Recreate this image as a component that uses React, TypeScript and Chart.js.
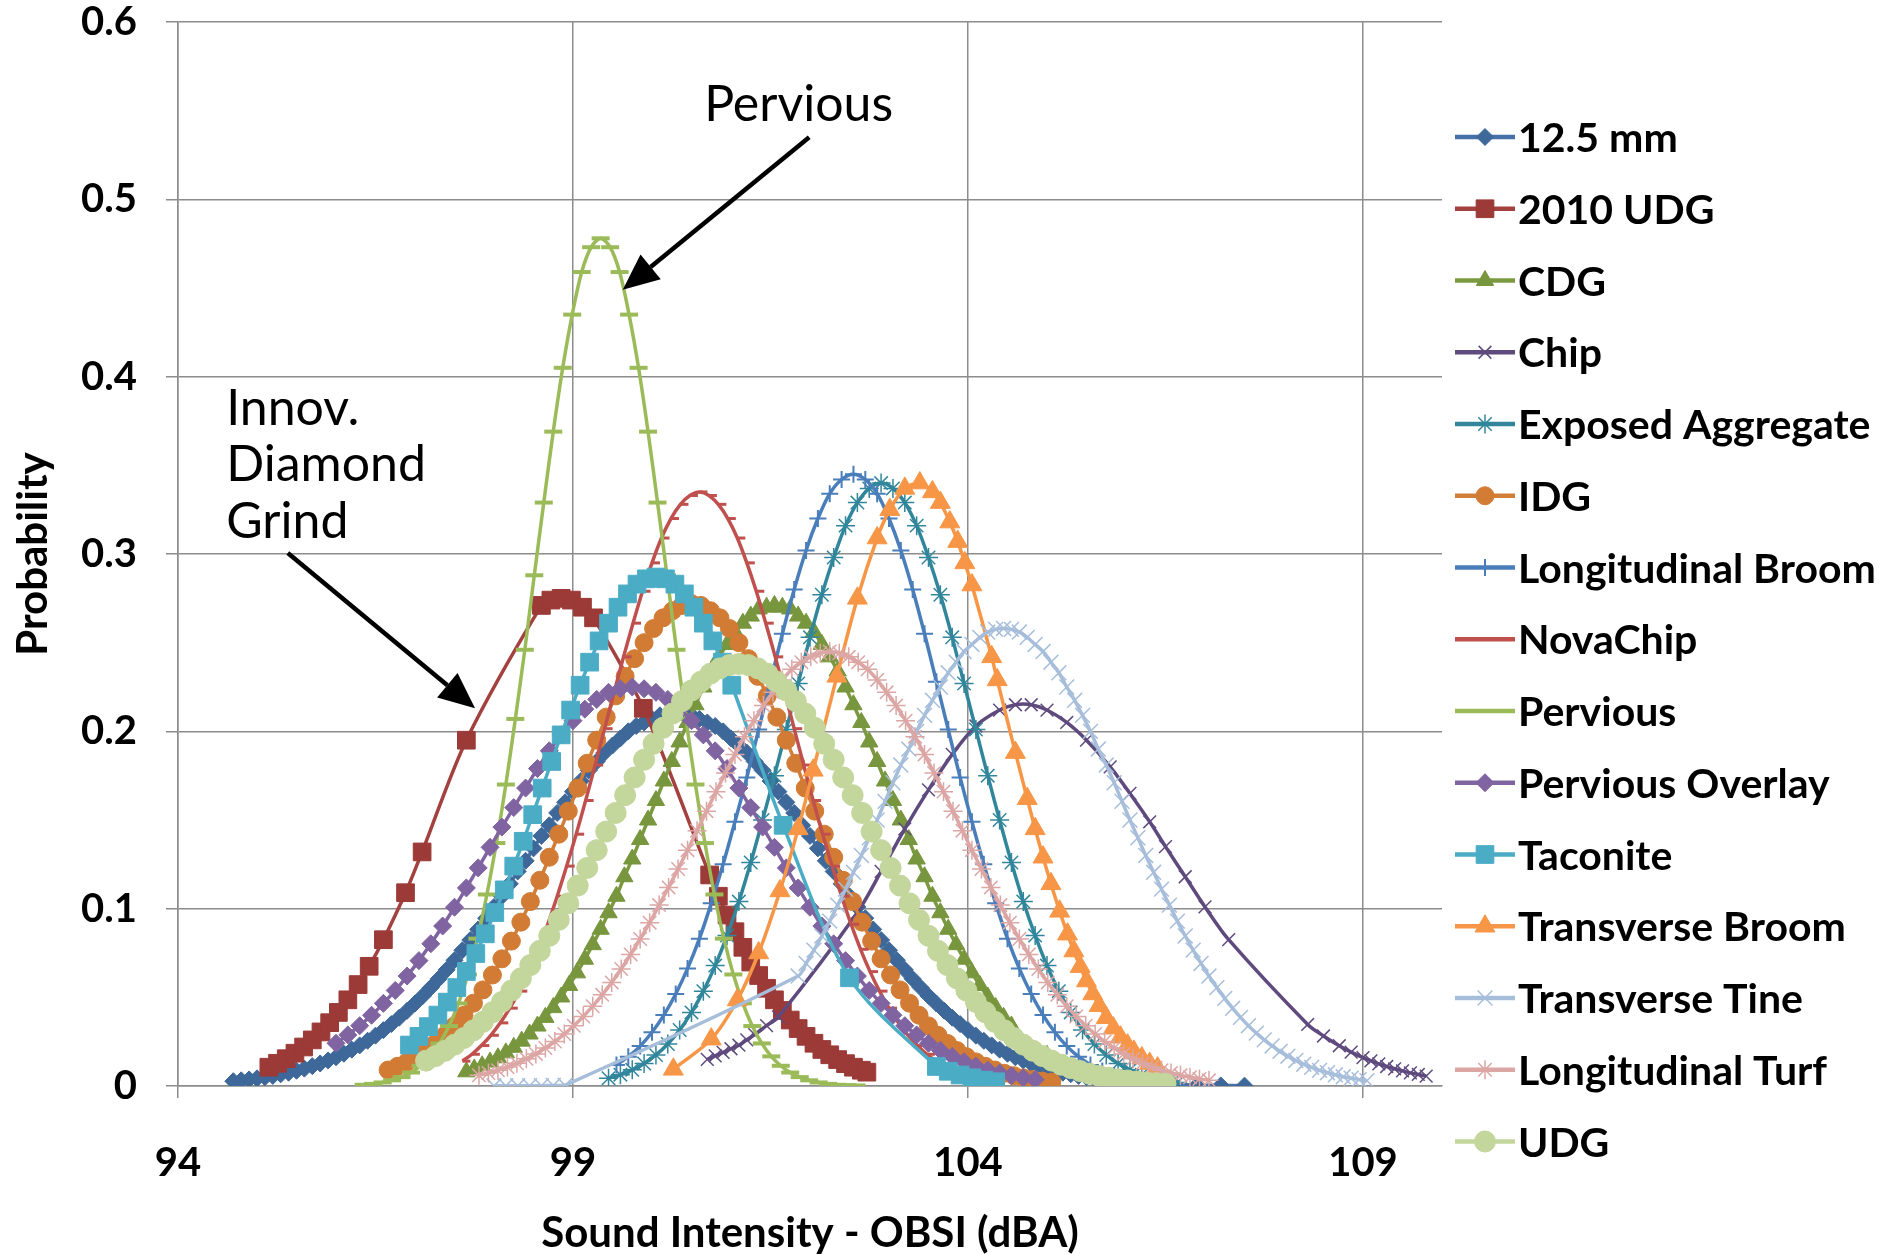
import React, { useEffect, useRef } from 'react';
import { Chart, registerables } from 'chart.js';

Chart.register(...registerables);

type Pt = [number, number];

// Sound intensity (dBA) vs. probability, one list per surface type
const mm125: Pt[] = [
  [94.7, .0027], [94.8, .0032], [94.9, .0037], [95.0, .0043], [95.1, .0050], [95.2, .0057], [95.3, .0066], [95.4, .0075],
  [95.5, .0086], [95.6, .0098], [95.7, .0112], [95.8, .0127], [95.9, .0144], [96.0, .0162], [96.1, .0182], [96.2, .0205],
  [96.3, .0229], [96.4, .0255], [96.5, .0284], [96.6, .0315], [96.7, .0349], [96.8, .0385], [96.9, .0424], [97.0, .0465],
  [97.1, .0508], [97.2, .0555], [97.3, .0604], [97.4, .0655], [97.5, .0709], [97.6, .0765], [97.7, .0823], [97.8, .0883],
  [97.9, .0946], [98.0, .101], [98.1, .107], [98.2, .114], [98.3, .121], [98.4, .127], [98.5, .134], [98.6, .141],
  [98.7, .147], [98.8, .154], [98.9, .160], [99.0, .166], [99.1, .172], [99.2, .178], [99.3, .183], [99.4, .188],
  [99.5, .192], [99.6, .196], [99.7, .200], [99.8, .203], [99.9, .205], [100.0, .207], [100.1, .209], [100.2, .210],
  [100.3, .210], [100.4, .210], [100.5, .209], [100.6, .207], [100.7, .205], [100.8, .203], [100.9, .200], [101.0, .196],
  [101.1, .192], [101.2, .188], [101.3, .183], [101.4, .178], [101.5, .172], [101.6, .166], [101.7, .160], [101.8, .154],
  [101.9, .147], [102.0, .141], [102.1, .134], [102.2, .127], [102.3, .121], [102.4, .114], [102.5, .107], [102.6, .101],
  [102.7, .0946], [102.8, .0883], [102.9, .0823], [103.0, .0765], [103.1, .0709], [103.2, .0655], [103.3, .0604], [103.4, .0555],
  [103.5, .0508], [103.6, .0465], [103.7, .0424], [103.8, .0385], [103.9, .0349], [104.0, .0315], [104.1, .0284], [104.2, .0255],
  [104.3, .0229], [104.4, .0205], [104.5, .0182], [104.6, .0162], [104.7, .0144], [104.8, .0127], [104.9, .0112], [105.0, .0098],
  [105.1, .0086], [105.2, .0075], [105.3, .0066], [105.4, .0057], [105.5, .0050], [105.6, .0043], [105.7, .0037], [105.8, .0032],
  [105.9, .0027], [106.0, .0023], [106.1, .0020], [106.2, .0017], [106.3, .0014], [106.4, .0012], [106.5, .0010], [106.6, .0009],
  [106.9, .0005], [107.2, .0003], [107.5, .0002],
];

const udg2010: Pt[] = [
  [95.15, .0106], [95.26, .0128], [95.37, .0154], [95.48, .0185], [95.59, .0220], [95.70, .0260], [95.81, .0305], [95.92, .0357],
  [96.03, .0415], [96.15, .0486], [96.28, .0572], [96.42, .0675], [96.60, .0825], [96.88, .109], [97.09, .132], [97.65, .195],
  [98.60, .271], [98.72, .274], [98.85, .275], [98.98, .274], [99.12, .270], [99.26, .264], [99.89, .213], [100.73, .119],
  [100.84, .107], [100.95, .0964], [101.05, .0870], [101.15, .0782], [101.25, .0699], [101.35, .0623], [101.45, .0551], [101.55, .0486],
  [101.65, .0426], [101.75, .0372], [101.85, .0324], [101.95, .0280], [102.05, .0241], [102.15, .0206], [102.25, .0176], [102.35, .0149],
  [102.45, .0126], [102.55, .0106], [102.65, .0089], [102.72, .0078],
];

const cdg: Pt[] = [
  [97.65, .0080], [97.75, .0096], [97.85, .0114], [97.95, .0135], [98.05, .0159], [98.15, .0187], [98.25, .0218], [98.35, .0253],
  [98.45, .0293], [98.55, .0338], [98.65, .0387], [98.75, .0442], [98.85, .0502], [98.95, .0567], [99.05, .0638], [99.15, .0715],
  [99.25, .0797], [99.35, .0884], [99.45, .0977], [99.55, .107], [99.65, .118], [99.75, .128], [99.85, .139], [99.95, .150],
  [100.05, .161], [100.15, .172], [100.25, .183], [100.35, .194], [100.45, .205], [100.55, .215], [100.65, .225], [100.75, .234],
  [100.85, .242], [100.95, .249], [101.05, .256], [101.15, .261], [101.25, .265], [101.35, .269], [101.45, .270], [101.55, .271],
  [101.65, .270], [101.75, .269], [101.85, .265], [101.95, .261], [102.05, .256], [102.15, .249], [102.25, .242], [102.35, .234],
  [102.45, .225], [102.55, .215], [102.65, .205], [102.75, .194], [102.85, .183], [102.95, .172], [103.05, .161], [103.15, .150],
  [103.25, .139], [103.35, .128], [103.45, .118], [103.55, .107], [103.65, .0977], [103.75, .0884], [103.85, .0797], [103.95, .0715],
  [104.05, .0638], [104.15, .0567], [104.25, .0502], [104.35, .0442], [104.45, .0387], [104.55, .0338], [105.0, .0173], [105.5, .0073],
  [106.0, .0028], [106.4, .0012],
];

const chip: Pt[] = [
  [100.7, .015], [100.8, .017], [100.9, .019], [101.0, .021], [101.1, .023], [101.2, .026], [101.3, .029], [101.45, .034],
  [101.6, .039], [102.6, .0979], [102.9, .121], [103.2, .145], [103.5, .167], [103.8, .187], [104.1, .203], [104.4, .212],
  [104.6, .215], [104.8, .215], [105.0, .212], [105.25, .205], [105.5, .195], [105.8, .180], [106.05, .165], [106.3, .149],
  [106.5, .135], [106.75, .118], [107.0, .101], [107.3, .0825], [108.3, .0347], [108.5, .0282], [108.7, .0227], [108.85, .0191],
  [109.0, .0160], [109.1, .0142], [109.2, .0125], [109.3, .0110], [109.4, .0097], [109.5, .0085], [109.6, .0074], [109.7, .0065],
  [109.8, .0056],
];

const exposedAggregate: Pt[] = [
  [99.45, .0044], [99.6, .0064], [99.75, .0091], [99.9, .0127], [100.05, .0175], [100.2, .0237], [100.35, .0316], [100.5, .0415],
  [100.65, .0535], [100.8, .0679], [100.95, .0848], [101.1, .104], [101.25, .126], [101.4, .150], [101.55, .175], [101.7, .201],
  [101.85, .227], [102.0, .253], [102.15, .277], [102.3, .298], [102.45, .316], [102.6, .329], [102.75, .337], [102.9, .340],
  [103.05, .337], [103.2, .329], [103.35, .316], [103.5, .298], [103.65, .277], [103.8, .253], [103.95, .227], [104.1, .201],
  [104.25, .175], [104.4, .150], [104.55, .126], [104.7, .104], [104.85, .0848], [105.0, .0679], [105.15, .0535], [105.3, .0415],
  [105.45, .0316], [105.6, .0237], [105.75, .0175], [105.9, .0127], [106.05, .0091], [106.2, .0064], [106.35, .0044], [106.5, .0030],
  [106.65, .0020],
];

const idg: Pt[] = [
  [96.66, .0090], [96.78, .0111], [96.9, .0136], [97.02, .0165], [97.14, .0200], [97.26, .0240], [97.38, .0286], [97.5, .0339],
  [97.62, .0399], [97.74, .0467], [97.86, .0542], [97.98, .0626], [98.1, .0717], [98.22, .0817], [98.34, .0924], [98.46, .104],
  [98.58, .116], [98.7, .129], [98.82, .142], [98.94, .155], [99.06, .168], [99.18, .182], [99.3, .195], [99.42, .208],
  [99.54, .220], [99.66, .231], [99.78, .241], [99.9, .250], [100.02, .258], [100.14, .264], [100.26, .268], [100.38, .271],
  [100.5, .272], [100.62, .271], [100.74, .268], [100.86, .264], [100.98, .258], [101.1, .250], [101.22, .241], [101.34, .231],
  [101.46, .220], [101.58, .208], [101.7, .195], [101.82, .182], [101.94, .168], [102.06, .155], [102.18, .142], [102.3, .129],
  [102.42, .116], [102.54, .104], [102.66, .0924], [102.78, .0817], [102.9, .0717], [103.02, .0626], [103.14, .0542], [103.26, .0467],
  [103.38, .0399], [103.5, .0339], [103.62, .0286], [103.74, .0240], [103.86, .0200], [103.98, .0165], [104.1, .0136], [104.22, .0111],
  [104.34, .0090], [104.46, .0072], [104.58, .0058], [104.7, .0046], [104.82, .0036], [104.94, .0028], [105.06, .0022],
];

const longitudinalBroom: Pt[] = [
  [99.55, .0119], [99.7, .0165], [99.85, .0225], [100.0, .0303], [100.15, .0400], [100.3, .0519], [100.45, .0662], [100.6, .0831],
  [100.75, .103], [100.9, .125], [101.05, .149], [101.2, .174], [101.35, .201], [101.5, .228], [101.65, .255], [101.8, .280],
  [101.95, .302], [102.1, .320], [102.25, .334], [102.4, .342], [102.55, .345], [102.7, .342], [102.85, .334], [103.0, .320],
  [103.15, .302], [103.3, .280], [103.45, .255], [103.6, .228], [103.75, .201], [103.9, .174], [104.05, .149], [104.2, .125],
  [104.35, .103], [104.5, .0831], [104.65, .0662], [104.8, .0519], [104.95, .0400], [105.1, .0303], [105.25, .0225], [105.4, .0165],
  [105.55, .0119], [105.7, .0084], [105.85, .0059], [106.0, .0040],
];

const novaChip: Pt[] = [
  [97.6, .0140], [97.72, .0179], [97.84, .0228], [97.96, .0286], [98.08, .0356], [98.2, .0439], [98.32, .0535], [98.44, .0645],
  [98.56, .0771], [98.68, .0912], [98.8, .107], [98.92, .124], [99.04, .142], [99.16, .161], [99.28, .181], [99.4, .2015],
  [99.52, .222], [99.64, .242], [99.76, .261], [99.88, .279], [100.0, .295], [100.12, .309], [100.24, .320], [100.36, .328],
  [100.48, .333], [100.6, .335], [100.72, .333], [100.84, .328], [100.96, .320], [101.08, .309], [101.2, .295], [101.32, .279],
  [101.44, .261], [101.56, .242], [101.68, .222], [101.8, .2015], [101.92, .181], [102.04, .161], [102.16, .142], [102.28, .124],
  [102.4, .107], [102.52, .0912], [102.64, .0771], [102.76, .0645], [102.88, .0535], [103.0, .0439], [103.12, .0356], [103.24, .0286],
  [103.36, .0228], [103.48, .0179], [103.6, .0140], [103.72, .0108], [103.84, .0082],
];

const pervious: Pt[] = [
  [96.35, .0007], [96.47, .0012], [96.59, .0020], [96.71, .0032], [96.83, .0050], [96.95, .0076], [97.07, .0114], [97.19, .0167],
  [97.31, .0240], [97.43, .0338], [97.55, .0466], [97.67, .0629], [97.79, .0831], [97.91, .108], [98.03, .137], [98.15, .170],
  [98.27, .207], [98.39, .246], [98.51, .288], [98.63, .329], [98.75, .369], [98.87, .405], [98.99, .435], [99.11, .459],
  [99.23, .473], [99.35, .478], [99.47, .473], [99.59, .459], [99.71, .435], [99.83, .405], [99.95, .369], [100.07, .329],
  [100.19, .288], [100.31, .246], [100.43, .207], [100.55, .170], [100.67, .137], [100.79, .108], [100.91, .0831], [101.03, .0629],
  [101.15, .0466], [101.27, .0338], [101.39, .0240], [101.51, .0167], [101.63, .0114], [101.75, .0076], [101.87, .0050], [101.99, .0032],
  [102.11, .0020], [102.23, .0012], [102.35, .0007], [102.47, .0004], [102.59, .0003],
];

const perviousOverlay: Pt[] = [
  [96.0, .0241], [96.15, .0288], [96.3, .0340], [96.45, .0399], [96.6, .0466], [96.75, .0539], [96.9, .0620], [97.05, .0707],
  [97.2, .0802], [97.35, .0902], [97.5, .1008], [97.65, .1117], [97.8, .123], [97.95, .1346], [98.1, .146], [98.25, .157],
  [98.4, .168], [98.55, .179], [98.7, .189], [98.85, .198], [99.0, .206], [99.15, .2125], [99.3, .218], [99.45, .222],
  [99.6, .224], [99.75, .225], [99.9, .224], [100.05, .222], [100.2, .218], [100.35, .2125], [100.5, .206], [100.65, .198],
  [100.8, .189], [100.95, .179], [101.1, .168], [101.25, .157], [101.4, .146], [101.55, .1346], [101.7, .123], [101.85, .1117],
  [102.0, .1008], [102.15, .0902], [102.3, .0802], [102.45, .0707], [102.6, .0620], [102.75, .0539], [102.9, .0466], [103.05, .0399],
  [103.2, .0340], [103.35, .0288], [103.5, .0241], [103.65, .0201], [103.8, .0167], [103.95, .0137], [104.1, .0112], [104.25, .0090],
  [104.4, .0073], [104.55, .0058], [104.7, .0046], [104.85, .0036],
];

const taconite: Pt[] = [
  [96.93, .0231], [97.05, .0280], [97.17, .0335], [97.29, .0400], [97.41, .0473], [97.53, .0555], [97.65, .0646], [97.77, .0747],
  [97.89, .0858], [98.01, .0978], [98.13, .1106], [98.25, .124], [98.37, .138], [98.49, .153], [98.61, .168], [98.73, .183],
  [98.85, .198], [98.97, .212], [99.09, .226], [99.21, .239], [99.33, .251], [99.45, .261], [99.57, .270], [99.69, .2775],
  [99.81, .283], [99.93, .286], [100.05, .287], [100.17, .286], [100.29, .283], [100.41, .2775], [100.53, .270], [100.65, .261],
  [100.77, .251], [100.89, .239], [101.01, .226], [101.66, .147], [102.5, .061], [103.6, .011], [103.75, .0083], [103.9, .0062],
  [104.05, .0046], [104.2, .0033], [104.35, .0024],
];

const transverseBroom: Pt[] = [
  [100.27, .0094], [100.75, .0264], [101.08, .0485], [101.35, .0750], [101.62, .110], [101.85, .145], [102.04, .178], [102.34, .231],
  [102.6, .275], [102.85, .309], [103.01, .325], [103.2, .337], [103.39, .340], [103.55, .335], [103.65, .329], [103.77, .318],
  [103.87, .307], [103.96, .295], [104.05, .2825], [104.3, .242], [104.37, .229], [104.6, .188], [104.75, .162], [104.85, .145],
  [104.95, .129], [105.05, .114], [105.16, .0985], [105.26, .0856], [105.34, .0761], [105.42, .0673], [105.5, .0592], [105.58, .0519],
  [105.66, .0453], [105.75, .0385], [105.84, .0326], [105.93, .0275], [106.02, .0230], [106.1, .0195], [106.2, .0158], [106.3, .0127],
  [106.4, .0101],
];

const transverseTine: Pt[] = [
  [98.0, .0001], [98.15, .0001], [98.3, .0001], [98.45, .0002], [98.6, .0002], [98.75, .0003], [98.9, .0004],
  [101.85, .0620], [101.95, .0691], [102.05, .0766], [102.15, .0846], [102.25, .0930], [102.35, .102], [102.45, .111], [102.55, .1205],
  [102.65, .130], [102.75, .140], [102.85, .150], [102.95, .1605], [103.05, .171], [103.15, .181], [103.25, .190], [103.35, .200],
  [103.45, .209], [103.55, .2175], [103.65, .225], [103.75, .233], [103.85, .239], [103.95, .245], [104.05, .249], [104.15, .253],
  [104.25, .256], [104.35, .2575], [104.45, .258], [104.55, .2575], [104.65, .256], [104.75, .253], [104.85, .249], [104.95, .245],
  [105.05, .239], [105.15, .233], [105.25, .225], [105.35, .2175], [105.45, .209], [105.55, .200], [105.65, .190], [105.75, .181],
  [105.85, .171], [105.95, .1605], [106.05, .150], [106.15, .140], [106.25, .130], [106.35, .1205], [106.45, .111], [106.55, .102],
  [106.65, .0930], [106.75, .0846], [106.85, .0766], [106.95, .0691], [107.05, .0620], [107.15, .0555], [107.25, .0494], [107.35, .0438],
  [107.45, .0387], [107.55, .0340], [107.65, .0298], [107.75, .0260], [107.85, .0226], [107.95, .0195], [108.05, .0168], [108.15, .0144],
  [108.25, .0123], [108.35, .0105], [108.45, .0088], [108.55, .0075], [108.65, .0063], [108.75, .0052], [108.85, .0044], [108.95, .0036],
  [109.05, .0030],
];

const longitudinalTurf: Pt[] = [
  [97.81, .0060], [97.93, .0073], [98.05, .0089], [98.17, .0107], [98.29, .0128], [98.41, .0153], [98.53, .0181], [98.65, .0214],
  [98.77, .0251], [98.89, .0293], [99.01, .0340], [99.13, .0392], [99.25, .0450], [99.37, .0514], [99.49, .0584], [99.61, .0660],
  [99.73, .0742], [99.85, .0829], [99.97, .0921], [100.09, .102], [100.21, .112], [100.33, .1224], [100.45, .133], [100.57, .144],
  [100.69, .155], [100.81, .166], [100.93, .1765], [101.05, .187], [101.17, .197], [101.29, .206], [101.41, .2145], [101.53, .222],
  [101.65, .229], [101.77, .235], [101.89, .239], [102.01, .242], [102.13, .244], [102.25, .245], [102.37, .244], [102.49, .242],
  [102.61, .239], [102.73, .235], [102.85, .229], [102.97, .222], [103.09, .2145], [103.21, .206], [103.33, .197], [103.45, .187],
  [103.57, .1765], [103.69, .166], [103.81, .155], [103.93, .144], [104.05, .133], [104.17, .1224], [104.29, .112], [104.41, .102],
  [104.53, .0921], [104.65, .0829], [104.77, .0742], [104.89, .0660], [105.01, .0584], [105.13, .0514], [105.25, .0450], [105.37, .0392],
  [105.49, .0340], [105.61, .0293], [105.73, .0251], [105.85, .0214], [105.97, .0181], [106.09, .0153], [106.21, .0128], [106.33, .0107],
  [106.45, .0089], [106.57, .0073], [106.69, .0060], [106.81, .0049], [106.93, .0040], [107.05, .0032],
];

const udg: Pt[] = [
  [97.14, .0143], [97.26, .0169], [97.38, .0199], [97.5, .0233], [97.62, .0271], [97.74, .0314], [97.86, .0362], [97.98, .0416],
  [98.1, .0474], [98.22, .0538], [98.34, .0607], [98.46, .0682], [98.58, .0762], [98.7, .0847], [98.82, .0937], [98.94, .103],
  [99.06, .113], [99.18, .123], [99.3, .133], [99.42, .1435], [99.54, .154], [99.66, .164], [99.78, .174], [99.9, .184],
  [100.02, .193], [100.14, .202], [100.26, .210], [100.38, .217], [100.5, .223], [100.62, .228], [100.74, .2325], [100.86, .2355],
  [100.98, .2374], [101.1, .238], [101.22, .2374], [101.34, .2355], [101.46, .2325], [101.58, .228], [101.7, .223], [101.82, .217],
  [101.94, .210], [102.06, .202], [102.18, .193], [102.3, .184], [102.42, .174], [102.54, .164], [102.66, .154], [102.78, .1435],
  [102.9, .133], [103.02, .123], [103.14, .113], [103.26, .103], [103.38, .0937], [103.5, .0847], [103.62, .0762], [103.74, .0682],
  [103.86, .0607], [103.98, .0538], [104.1, .0474], [104.22, .0416], [104.34, .0362], [104.46, .0314], [104.58, .0271], [104.7, .0233],
  [104.82, .0199], [104.94, .0169], [105.06, .0143], [105.18, .0120], [105.3, .0101], [105.42, .0084], [105.54, .0069], [105.66, .0057],
  [105.78, .0047], [105.9, .0038], [106.02, .0031], [106.14, .0025], [106.26, .0020], [106.38, .0016], [106.5, .0013],
];

const seriesNames = [
  '12.5 mm', '2010 UDG', 'CDG', 'Chip', 'Exposed Aggregate', 'IDG', 'Longitudinal Broom', 'NovaChip',
  'Pervious', 'Pervious Overlay', 'Taconite', 'Transverse Broom', 'Transverse Tine', 'Longitudinal Turf', 'UDG',
];
const seriesData: Pt[][] = [
  mm125, udg2010, cdg, chip, exposedAggregate, idg, longitudinalBroom, novaChip,
  pervious, perviousOverlay, taconite, transverseBroom, transverseTine, longitudinalTurf, udg,
];

const xTickValues = [94, 99, 104, 109];
const yTickValues = [0, 0.1, 0.2, 0.3, 0.4, 0.5, 0.6];

// Callout labels and arrows, positioned in data units
const callouts = [
  { lines: ['Pervious'], textX: 100.66, textY: 0.553, lineStep: 0, from: [101.99, 0.535], to: [99.63, 0.449] },
  { lines: ['Innov.', 'Diamond', 'Grind'], textX: 94.61, textY: 0.382, lineStep: 0.032, from: [95.39, 0.3006], to: [97.76, 0.213] },
];

type MarkerStyle = 'rectRot' | 'rect' | 'triangle' | 'circle' | 'cross' | 'crossRot' | 'star' | 'line' | 'dash';
interface SeriesStyle { line: string; fill: string; marker: MarkerStyle; r: number; mw: number; lw: number; }

const styles: SeriesStyle[] = [
  { line: '#4571A8', fill: '#3D6899', marker: 'rectRot', r: 8.5, mw: 1, lw: 3.5 },
  { line: '#A3413E', fill: '#9B3A37', marker: 'rect', r: 12.5, mw: 1, lw: 3.5 },
  { line: '#7B9A40', fill: '#77963D', marker: 'triangle', r: 10, mw: 1, lw: 3.5 },
  { line: '#5F4A7E', fill: '#5F4A7E', marker: 'crossRot', r: 9, mw: 1.5, lw: 3.5 },
  { line: '#31869B', fill: '#31869B', marker: 'star', r: 9.5, mw: 1.5, lw: 3.5 },
  { line: '#D27D38', fill: '#D27B35', marker: 'circle', r: 9, mw: 1, lw: 3.5 },
  { line: '#4A7EBB', fill: '#4A7EBB', marker: 'cross', r: 8.5, mw: 2, lw: 3.5 },
  { line: '#C0504D', fill: '#C0504D', marker: 'dash', r: 8, mw: 3, lw: 3.5 },
  { line: '#9BBB59', fill: '#9BBB59', marker: 'line', r: 9, mw: 4, lw: 3.5 },
  { line: '#8064A2', fill: '#8064A2', marker: 'rectRot', r: 9, mw: 1, lw: 3.5 },
  { line: '#4BACC6', fill: '#4BACC6', marker: 'rect', r: 12.5, mw: 1, lw: 3.5 },
  { line: '#F79646', fill: '#F79646', marker: 'triangle', r: 11.5, mw: 1, lw: 3.5 },
  { line: '#A7BEDB', fill: '#A7BEDB', marker: 'crossRot', r: 10.5, mw: 1.5, lw: 3.5 },
  { line: '#DCA6A5', fill: '#DCA6A5', marker: 'star', r: 9.5, mw: 1.5, lw: 3.5 },
  { line: '#C3D69B', fill: '#C3D69B', marker: 'circle', r: 10.5, mw: 1, lw: 3.5 },
];

const FONT = "Lato, 'Open Sans', sans-serif";
const GRID = '#8C8C8C';

function drawMarker(ctx: CanvasRenderingContext2D, s: SeriesStyle, x: number, y: number) {
  const r = s.r;
  ctx.save();
  ctx.fillStyle = s.fill;
  ctx.strokeStyle = s.fill;
  ctx.lineWidth = s.mw;
  ctx.beginPath();
  const d = r * Math.SQRT1_2;
  switch (s.marker) {
    case 'rectRot':
      ctx.moveTo(x - r, y); ctx.lineTo(x, y - r); ctx.lineTo(x + r, y); ctx.lineTo(x, y + r); ctx.closePath();
      ctx.fill(); ctx.stroke(); break;
    case 'rect':
      ctx.rect(x - d, y - d, 2 * d, 2 * d); ctx.fill(); ctx.stroke(); break;
    case 'triangle':
      ctx.moveTo(x, y - r);
      ctx.lineTo(x + r * Math.sin(2 * Math.PI / 3), y + r * 0.5);
      ctx.lineTo(x - r * Math.sin(2 * Math.PI / 3), y + r * 0.5);
      ctx.closePath(); ctx.fill(); ctx.stroke(); break;
    case 'circle':
      ctx.arc(x, y, r, 0, Math.PI * 2); ctx.fill(); ctx.stroke(); break;
    case 'cross':
      ctx.moveTo(x - r, y); ctx.lineTo(x + r, y); ctx.moveTo(x, y - r); ctx.lineTo(x, y + r); ctx.stroke(); break;
    case 'crossRot':
      ctx.moveTo(x - d, y - d); ctx.lineTo(x + d, y + d); ctx.moveTo(x + d, y - d); ctx.lineTo(x - d, y + d); ctx.stroke(); break;
    case 'star':
      ctx.moveTo(x - r, y); ctx.lineTo(x + r, y); ctx.moveTo(x, y - r); ctx.lineTo(x, y + r);
      ctx.moveTo(x - d, y - d); ctx.lineTo(x + d, y + d); ctx.moveTo(x + d, y - d); ctx.lineTo(x - d, y + d); ctx.stroke(); break;
    default:
      break;
  }
  ctx.restore();
}

const legendPlugin = {
  id: 'sideLegend',
  afterDraw(chart: Chart) {
    const ctx = chart.ctx;
    const x0 = 1455, x1 = 1515, textX = 1518, top = 137, step = 71.75;
    seriesNames.forEach((name, i) => {
      const s = styles[i];
      const y = top + i * step;
      ctx.save();
      ctx.strokeStyle = s.line;
      ctx.lineWidth = 4.5;
      ctx.beginPath(); ctx.moveTo(x0, y); ctx.lineTo(x1, y); ctx.stroke();
      ctx.restore();
      drawMarker(ctx, s, (x0 + x1) / 2, y);
      ctx.save();
      ctx.fillStyle = '#000';
      ctx.font = `bold 41px ${FONT}`;
      ctx.textBaseline = 'middle';
      ctx.textAlign = 'left';
      ctx.fillText(name, textX, y + 2);
      ctx.restore();
    });
  },
};

function drawArrow(ctx: CanvasRenderingContext2D, x1: number, y1: number, x2: number, y2: number) {
  const ang = Math.atan2(y2 - y1, x2 - x1);
  const head = 36, half = 16;
  const bx = x2 - head * Math.cos(ang), by = y2 - head * Math.sin(ang);
  ctx.save();
  ctx.strokeStyle = '#000';
  ctx.fillStyle = '#000';
  ctx.lineWidth = 4.5;
  ctx.beginPath(); ctx.moveTo(x1, y1); ctx.lineTo(bx, by); ctx.stroke();
  ctx.beginPath();
  ctx.moveTo(x2, y2);
  ctx.lineTo(bx + half * Math.sin(ang), by - half * Math.cos(ang));
  ctx.lineTo(bx - half * Math.sin(ang), by + half * Math.cos(ang));
  ctx.closePath(); ctx.fill();
  ctx.restore();
}

const calloutPlugin = {
  id: 'callouts',
  afterDraw(chart: Chart) {
    const ctx = chart.ctx;
    const xs = chart.scales.x, ys = chart.scales.y;
    callouts.forEach((c) => {
      ctx.save();
      ctx.fillStyle = '#000';
      ctx.font = `50px ${FONT}`;
      ctx.textBaseline = 'middle';
      ctx.textAlign = 'left';
      c.lines.forEach((t, j) => {
        ctx.fillText(t, xs.getPixelForValue(c.textX), ys.getPixelForValue(c.textY - j * c.lineStep));
      });
      ctx.restore();
      drawArrow(
        ctx,
        xs.getPixelForValue(c.from[0]), ys.getPixelForValue(c.from[1]),
        xs.getPixelForValue(c.to[0]), ys.getPixelForValue(c.to[1]),
      );
    });
  },
};

const bgPlugin = {
  id: 'whiteBg',
  beforeDraw(chart: Chart) {
    const ctx = chart.ctx;
    ctx.save();
    ctx.fillStyle = '#fff';
    ctx.fillRect(0, 0, chart.width, chart.height);
    ctx.restore();
  },
};

export default function App() {
  const canvasRef = useRef<HTMLCanvasElement | null>(null);

  useEffect(() => {
    if (!canvasRef.current) return;
    const n = seriesNames.length;
    const datasets = seriesNames.map((name, i) => {
      const s = styles[i];
      return {
        label: name,
        data: seriesData[i].map(([x, y]) => ({ x, y })),
        showLine: true,
        borderColor: s.line,
        borderWidth: s.lw,
        backgroundColor: s.fill,
        pointStyle: s.marker,
        pointRadius: s.r,
        pointHoverRadius: s.r,
        pointBackgroundColor: s.fill,
        pointBorderColor: s.fill,
        pointBorderWidth: s.mw,
        tension: 0.3,
        order: n - i,
      };
    });

    const chart = new Chart(canvasRef.current, {
      type: 'scatter',
      data: { datasets },
      plugins: [bgPlugin, legendPlugin, calloutPlugin],
      options: {
        animation: false,
        responsive: false,
        maintainAspectRatio: false,
        layout: { padding: { top: 22, right: 455, bottom: 0, left: 0 } },
        plugins: { legend: { display: false }, tooltip: { enabled: false } },
        font: { family: FONT },
        scales: {
          x: {
            type: 'linear',
            min: 94,
            max: 110,
            afterBuildTicks: (s: any) => { s.ticks = xTickValues.map((v) => ({ value: v })); },
            afterFit: (s: any) => { s.height = 168; s.paddingLeft = 0; s.paddingRight = 0; },
            grid: { color: GRID, lineWidth: 1.5, tickLength: 12, tickColor: GRID, drawTicks: true },
            border: { color: GRID, width: 1.5 },
            ticks: {
              color: '#000', padding: 41, maxRotation: 0, autoSkip: false,
              font: { family: FONT, size: 40, weight: 'bold' },
            },
            title: {
              display: true, text: 'Sound Intensity - OBSI (dBA)', color: '#000',
              font: { family: FONT, size: 42, weight: 'bold', lineHeight: 1 },
              padding: { top: 0, bottom: 0 },
            },
          },
          y: {
            type: 'linear',
            min: 0,
            max: 0.6,
            afterBuildTicks: (s: any) => { s.ticks = yTickValues.map((v) => ({ value: v })); },
            afterFit: (s: any) => { s.width = 178; s.paddingTop = 0; s.paddingBottom = 0; },
            grid: { color: GRID, lineWidth: 1.5, tickLength: 12, tickColor: GRID, drawTicks: true },
            border: { color: GRID, width: 1.5 },
            ticks: {
              color: '#000', padding: 29,
              font: { family: FONT, size: 40, weight: 'bold' },
              callback: (v: any) => (Number(v) === 0 ? '0' : Number(v).toFixed(1)),
            },
            title: {
              display: true, text: 'Probability', color: '#000',
              font: { family: FONT, size: 42, weight: 'bold', lineHeight: 1 },
              padding: { top: 12, bottom: 0 },
            },
          },
        },
      } as any,
    });
    return () => chart.destroy();
  }, []);

  return (
    <div style={{ position: 'absolute', left: 0, top: 0, width: 1897, height: 1254, background: '#fff' }}>
      <canvas ref={canvasRef} width={1897} height={1254} style={{ width: 1897, height: 1254 }} />
    </div>
  );
}
